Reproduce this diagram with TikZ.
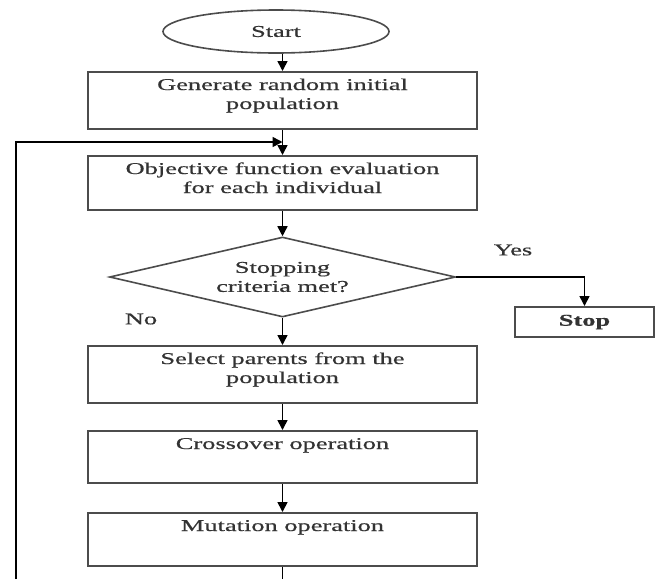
\documentclass[tikz,border=0pt]{standalone}
\usepackage{fontspec}
\setmainfont{Liberation Serif}[FakeStretch=1.6,FakeBold=0.6]
\usetikzlibrary{shapes.geometric,arrows.meta}
\newcommand{\linecolor}{black!70}
\newcommand{\boxwidth}{389pt}
\newcommand{\thickness}{2pt}

\begin{document}
\begin{tikzpicture}[x=1pt,y=-1pt,
  every node/.style={font=\fontsize{16.5}{19}\selectfont, text=black!80},
  stepbox/.style={draw=\linecolor, line width=\thickness, rectangle, minimum width=\boxwidth, inner sep=0pt, align=center, text height=18pt},
  flow/.style={-{Triangle[width=10pt,length=10pt]}, line width=1.6pt, black}]
\useasboundingbox (0,0) rectangle (660,579);
\node[draw=\linecolor, line width=1.6pt, ellipse, minimum width=226pt, minimum height=43pt, inner sep=0pt] (start) at (276, 31.5) {Start};
\node[stepbox, text height=37pt, text depth=20pt] (gen) at (282.5, 100.5) {Generate random initial\\population};
\node[stepbox, text height=37pt, text depth=17pt] (obj) at (282.5, 183) {Objective function evaluation\\for each individual};
\node[draw=\linecolor, line width=1.6pt, diamond, aspect=4.3, minimum width=346pt, minimum height=80pt, inner sep=0pt, align=center] (dec) at (282.5, 277) {Stopping\\criteria met?};
\node[stepbox, text height=37pt, text depth=20pt] (sel) at (282.5, 374.5) {Select parents from the\\population};
\node[stepbox, text depth=34pt] (cross) at (282.5, 457) {Crossover operation};
\node[stepbox, text depth=35pt] (mut) at (282.5, 539.5) {Mutation operation};
\node[draw=\linecolor, line width=\thickness, minimum width=139pt, minimum height=30pt, inner sep=0pt, font=\fontsize{16.5}{19}\selectfont\bfseries] (stop) at (584.5, 322) {Stop};
\node (yes) at (513, 250) {Yes};
\node (no) at (141, 319) {No};
\coordinate (join) at (282.5, 142);
\coordinate (cutR) at (282.5, 579);
\coordinate (cutL) at (16, 579);
% main flow
\draw[flow] (start.south -| gen.north) -- (gen.north);
\draw[flow] (gen) -- (obj);
\draw[flow] (obj) -- (dec);
\draw[flow] (dec) -- (sel);
\draw[flow] (sel) -- (cross);
\draw[flow] (cross) -- (mut);
\draw[flow] (dec.east) -| (stop.north);
% loop back
\draw[line width=1.6pt] (mut) -- (cutR);
\draw[flow] (cutL) |- (join);
\end{tikzpicture}
\end{document}
